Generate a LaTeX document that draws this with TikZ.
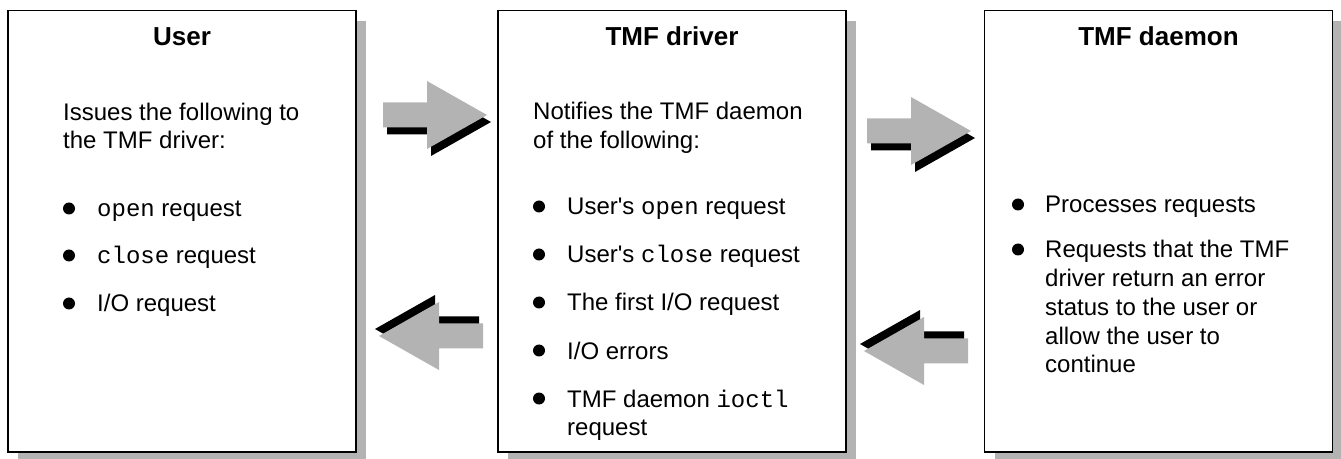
\documentclass[tikz,border=0pt]{standalone}
\usepackage{fontspec}
\setmainfont{Liberation Sans}
\setmonofont{Liberation Mono}
\usetikzlibrary{shadows, positioning}
\definecolor{arrowgray}{RGB}{179,179,179}

\tikzset{
  panel/.style={draw, line width=1.6pt, fill=white, minimum width=348pt, minimum height=441pt, inner sep=0pt,
    drop shadow={shadow xshift=10pt, shadow yshift=-10pt, fill=arrowgray, opacity=1}},
  heading/.style={anchor=base, inner sep=0pt, font=\bfseries\fontsize{26}{31}\selectfont},
  body/.style={anchor=base west, inner sep=0pt, font=\fontsize{24}{29}\selectfont},
  blockarrow/.pic={
    \fill[black, shift={(4,-7)}] (0,12.5) -- (44,12.5) -- (44,34) -- (104,0) -- (44,-34) -- (44,-12.5) -- (0,-12.5) -- cycle;
    \fill[arrowgray] (0,12.5) -- (44,12.5) -- (44,34) -- (104,0) -- (44,-34) -- (44,-12.5) -- (0,-12.5) -- cycle;
  }
}

\begin{document}
\begin{tikzpicture}[x=1pt, y=1pt]

            \useasboundingbox (0,0) rectangle (1341,458);

            % Khung
            \node[panel] (user) at (182,226.8) {};
            \node[panel] (driver) at (672,226.8) {};
            \node[panel] (daemon) at (1158.5,226.8) {};

            % Mui ten
            \pic at (383,343) {blockarrow};
            \pic at (867,327) {blockarrow};
            \pic[rotate=180] at (483,122) {blockarrow};
            \pic[rotate=180] at (968,107) {blockarrow};

            % User
            \node[heading] (userT) at (182,412) {User};
            \node[body] (userA) at (63,337) {Issues the following to};
            \node[body] (userB) at (63,309) {the TMF driver:};
            \fill (69,249.5) circle (6pt);
            \node[body] (userC) at (97,241) {\texttt{open} request};
            \fill (69,202.5) circle (6pt);
            \node[body] (userD) at (97,194) {\texttt{close} request};
            \fill (69,154.5) circle (6pt);
            \node[body] (userE) at (97,146) {I/O request};

            % TMF driver
            \node[heading] (driverT) at (672,412) {TMF driver};
            \node[body] (driverA) at (533,338) {Notifies the TMF daemon};
            \node[body] (driverB) at (533,309) {of the following:};
            \fill (539,251.5) circle (6pt);
            \node[body] (driverC) at (567,243) {User\textquotesingle s \texttt{open} request};
            \fill (539,203.5) circle (6pt);
            \node[body] (driverD) at (567,195) {User\textquotesingle s \texttt{close} request};
            \fill (539,155.5) circle (6pt);
            \node[body] (driverE) at (567,147) {The first I/O request};
            \fill (539,107.5) circle (6pt);
            \node[body] (driverF) at (567,99) {I/O errors};
            \fill (539,59.5) circle (6pt);
            \node[body] (driverG) at (567,51) {TMF daemon \texttt{ioctl}};
            \node[body] (driverH) at (567,23) {request};

            % TMF daemon
            \node[heading] (daemonT) at (1158.5,412) {TMF daemon};
            \fill (1018,253.5) circle (6pt);
            \node[body] (daemonA) at (1045,245) {Processes requests};
            \fill (1018,208.5) circle (6pt);
            \node[body] (daemonB) at (1045,200) {Requests that the TMF};
            \node[body] (daemonC) at (1045,171) {driver return an error};
            \node[body] (daemonD) at (1045,142) {status to the user or};
            \node[body] (daemonE) at (1045,113) {allow the user to};
            \node[body] (daemonF) at (1045,85) {continue};

            \end{tikzpicture}
\end{document}
